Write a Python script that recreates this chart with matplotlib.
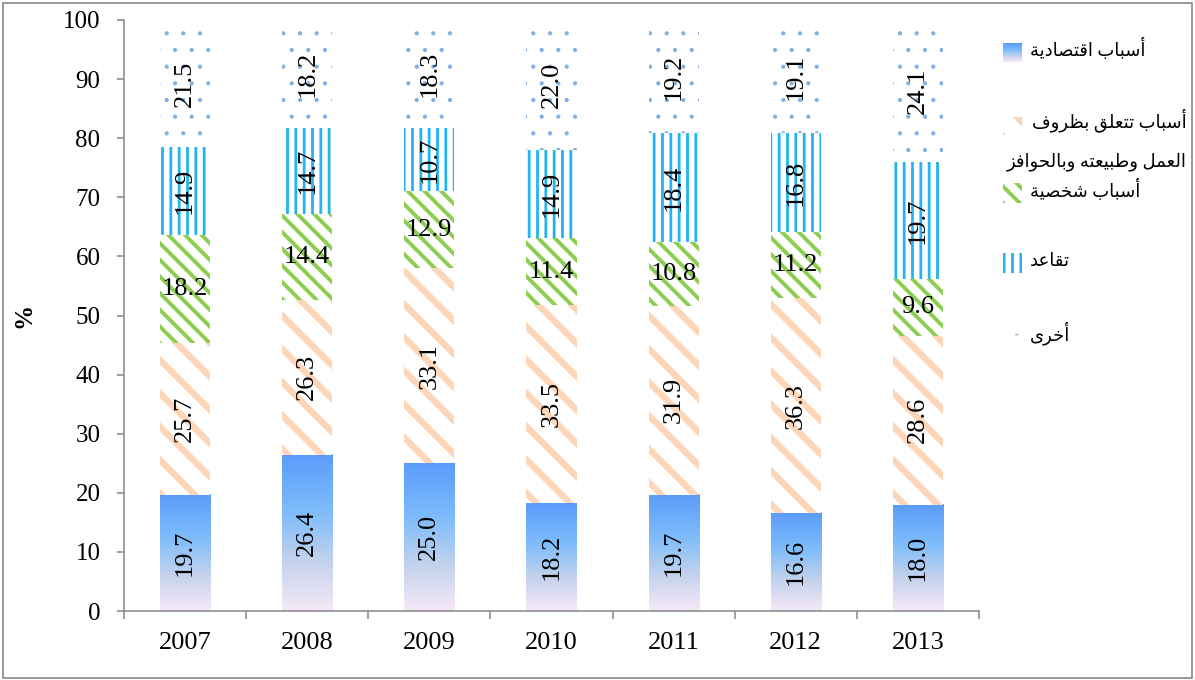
import numpy as np
import matplotlib
matplotlib.use('Agg')
import matplotlib.pyplot as plt
from matplotlib.colors import LinearSegmentedColormap
from matplotlib.patches import Rectangle

years = ['2007', '2008', '2009', '2010', '2011', '2012', '2013']
economic = [19.7, 26.4, 25.0, 18.2, 19.7, 16.6, 18.0]
work = [25.7, 26.3, 33.1, 33.5, 31.9, 36.3, 28.6]
personal = [18.2, 14.4, 12.9, 11.4, 10.8, 11.2, 9.6]
retired = [14.9, 14.7, 10.7, 14.9, 18.4, 16.8, 19.7]
other = [21.5, 18.2, 18.3, 22.0, 19.2, 19.1, 24.1]

legend_labels = ['أسباب اقتصادية',
                 'أسباب تتعلق بظروف\nالعمل وطبيعته وبالحوافز',
                 'أسباب شخصية',
                 'تقاعد',
                 'أخرى']

# matplotlib does no arabic shaping, so map letters to presentation forms
# (isolated, final, initial, medial)
FORMS = {
    'ا': ('\uFE8D', '\uFE8E', None, None),
    'أ': ('\uFE83', '\uFE84', None, None),
    'ب': ('\uFE8F', '\uFE90', '\uFE91', '\uFE92'),
    'ة': ('\uFE93', '\uFE94', None, None),
    'ت': ('\uFE95', '\uFE96', '\uFE97', '\uFE98'),
    'ح': ('\uFEA1', '\uFEA2', '\uFEA3', '\uFEA4'),
    'خ': ('\uFEA5', '\uFEA6', '\uFEA7', '\uFEA8'),
    'د': ('\uFEA9', '\uFEAA', None, None),
    'ر': ('\uFEAD', '\uFEAE', None, None),
    'ز': ('\uFEAF', '\uFEB0', None, None),
    'س': ('\uFEB1', '\uFEB2', '\uFEB3', '\uFEB4'),
    'ش': ('\uFEB5', '\uFEB6', '\uFEB7', '\uFEB8'),
    'ص': ('\uFEB9', '\uFEBA', '\uFEBB', '\uFEBC'),
    'ط': ('\uFEC1', '\uFEC2', '\uFEC3', '\uFEC4'),
    'ظ': ('\uFEC5', '\uFEC6', '\uFEC7', '\uFEC8'),
    'ع': ('\uFEC9', '\uFECA', '\uFECB', '\uFECC'),
    'ف': ('\uFED1', '\uFED2', '\uFED3', '\uFED4'),
    'ق': ('\uFED5', '\uFED6', '\uFED7', '\uFED8'),
    'ل': ('\uFEDD', '\uFEDE', '\uFEDF', '\uFEE0'),
    'م': ('\uFEE1', '\uFEE2', '\uFEE3', '\uFEE4'),
    'ه': ('\uFEE9', '\uFEEA', '\uFEEB', '\uFEEC'),
    'و': ('\uFEED', '\uFEEE', None, None),
    'ى': ('\uFEEF', '\uFEF0', None, None),
    'ي': ('\uFEF1', '\uFEF2', '\uFEF3', '\uFEF4'),
}
LAM_ALEF = {'ا': ('\uFEFB', '\uFEFC'), 'أ': ('\uFEF7', '\uFEF8')}


def shape_line(line):
    out = []
    i = 0
    n = len(line)
    while i < n:
        c = line[i]
        if c not in FORMS:
            out.append(c)
            i += 1
            continue
        prev = line[i - 1] if i > 0 else ''
        joins_prev = prev in FORMS and FORMS[prev][2] is not None
        if c == 'ل' and i + 1 < n and line[i + 1] in LAM_ALEF:
            out.append(LAM_ALEF[line[i + 1]][1 if joins_prev else 0])
            i += 2
            continue
        nxt = line[i + 1] if i + 1 < n else ''
        joins_next = FORMS[c][2] is not None and nxt in FORMS
        iso, fin, ini, med = FORMS[c]
        if joins_prev and joins_next:
            out.append(med)
        elif joins_prev:
            out.append(fin)
        elif joins_next:
            out.append(ini)
        else:
            out.append(iso)
        i += 1
    return ''.join(out)[::-1]


def shape_arabic(text):
    return '\n'.join(shape_line(l) for l in text.split('\n'))


def hatch_lw(patch, lw):
    if hasattr(patch, 'set_hatch_linewidth'):
        patch.set_hatch_linewidth(lw)


plt.rcParams['font.family'] = ['Liberation Serif', 'DejaVu Sans']
plt.rcParams['hatch.linewidth'] = 2.0

grad_cmap = LinearSegmentedColormap.from_list(
    'eco', [(0.0, '#f6e9f8'), (0.3, '#c6d3ec'), (0.62, '#80bdfb'), (1.0, '#5a9cfb')])
grad = np.linspace(0, 1, 256).reshape(-1, 1)

styles = [
    dict(hatch='\\', color='#fdd5b8', lw=4.6),
    dict(hatch='\\\\', color='#8ccd52', lw=2.8),
    dict(hatch='||', color='#22b5f0', lw=2.0),
    dict(hatch='.', color='#7fb0e6', lw=0.6),
]

fig = plt.figure(figsize=(11.95, 6.8), dpi=100)
ax = fig.add_axes([124 / 1195, 69 / 680, 855 / 1195, 591 / 680])

x = np.arange(len(years))
width = 0.41
gray = '#868686'

eco = ax.bar(x, economic, width, color='none', edgecolor='none', zorder=2)
for r in eco:
    ax.imshow(grad, extent=[r.get_x(), r.get_x() + r.get_width(), r.get_y(), r.get_y() + r.get_height()],
              cmap=grad_cmap, aspect='auto', origin='lower', interpolation='bicubic', zorder=1)
ax.bar_label(eco, fmt='%.1f', label_type='center', rotation=90, fontsize=19)

bottom = np.array(economic)
for vals, st, rot in zip([work, personal, retired, other], styles, [90, 0, 90, 90]):
    bars = ax.bar(x, vals, width, bottom=bottom, facecolor='white', edgecolor=st['color'],
                  linewidth=0, hatch=st['hatch'], zorder=2)
    for b in bars:
        hatch_lw(b, st['lw'])
    ax.bar_label(bars, fmt='%.1f', label_type='center', rotation=rot, fontsize=19)
    bottom = bottom + np.array(vals)

ax.set_xlim(-0.5, len(years) - 0.5)
ax.set_ylim(0, 100)
ax.set_yticks(np.arange(0, 101, 10))
ax.set_xticks(x, years)
ax.set_xticks(np.arange(-0.5, len(years), 1), minor=True)
ax.tick_params(axis='x', which='major', length=0, labelsize=19, pad=15)
ax.tick_params(axis='x', which='minor', length=6, width=1.1, color=gray)
ax.tick_params(axis='y', length=5, width=1.1, color=gray, labelsize=18, pad=12)
for s in ['top', 'right']:
    ax.spines[s].set_visible(False)
for s in ['left', 'bottom']:
    ax.spines[s].set_color(gray)
    ax.spines[s].set_linewidth(1.1)
ax.set_ylabel('%', fontsize=18, fontweight='bold')
ax.yaxis.set_label_coords(-0.104, 0.5)

# legend and frame drawn in pixel coordinates
lax = fig.add_axes([0, 0, 1, 1])
lax.set_xlim(0, 1195)
lax.set_ylim(680, 0)
lax.axis('off')
lax.add_patch(Rectangle((3, 3), 1189, 675, fill=False, edgecolor=gray, linewidth=1.2))

lax.imshow(grad, extent=[1003, 1022, 62, 43], cmap=grad_cmap, aspect='auto',
           origin='lower', interpolation='bicubic')
swatches = [(117, 18), (183, 20), (253, 20), (334, 12)]
for (y0, h), st in zip(swatches, styles):
    p = Rectangle((1003, y0), 19, h, facecolor='white', edgecolor=st['color'],
                  linewidth=0, hatch=st['hatch'])
    hatch_lw(p, st['lw'])
    lax.add_patch(p)

fs = 13
lax.text(1030, 49, shape_arabic(legend_labels[0]), fontsize=fs, ha='left', va='center')
line1, line2 = legend_labels[1].split('\n')
lax.text(1187, 120, shape_arabic(line1), fontsize=fs, ha='right', va='center')
lax.text(1187, 162, shape_arabic(line2), fontsize=fs, ha='right', va='center')
lax.text(1030, 190, shape_arabic(legend_labels[2]), fontsize=fs, ha='left', va='center')
lax.text(1030, 262, shape_arabic(legend_labels[3]), fontsize=fs, ha='left', va='center')
lax.text(1030, 333, shape_arabic(legend_labels[4]), fontsize=fs, ha='left', va='center')

fig.savefig('out.png', dpi=100)
